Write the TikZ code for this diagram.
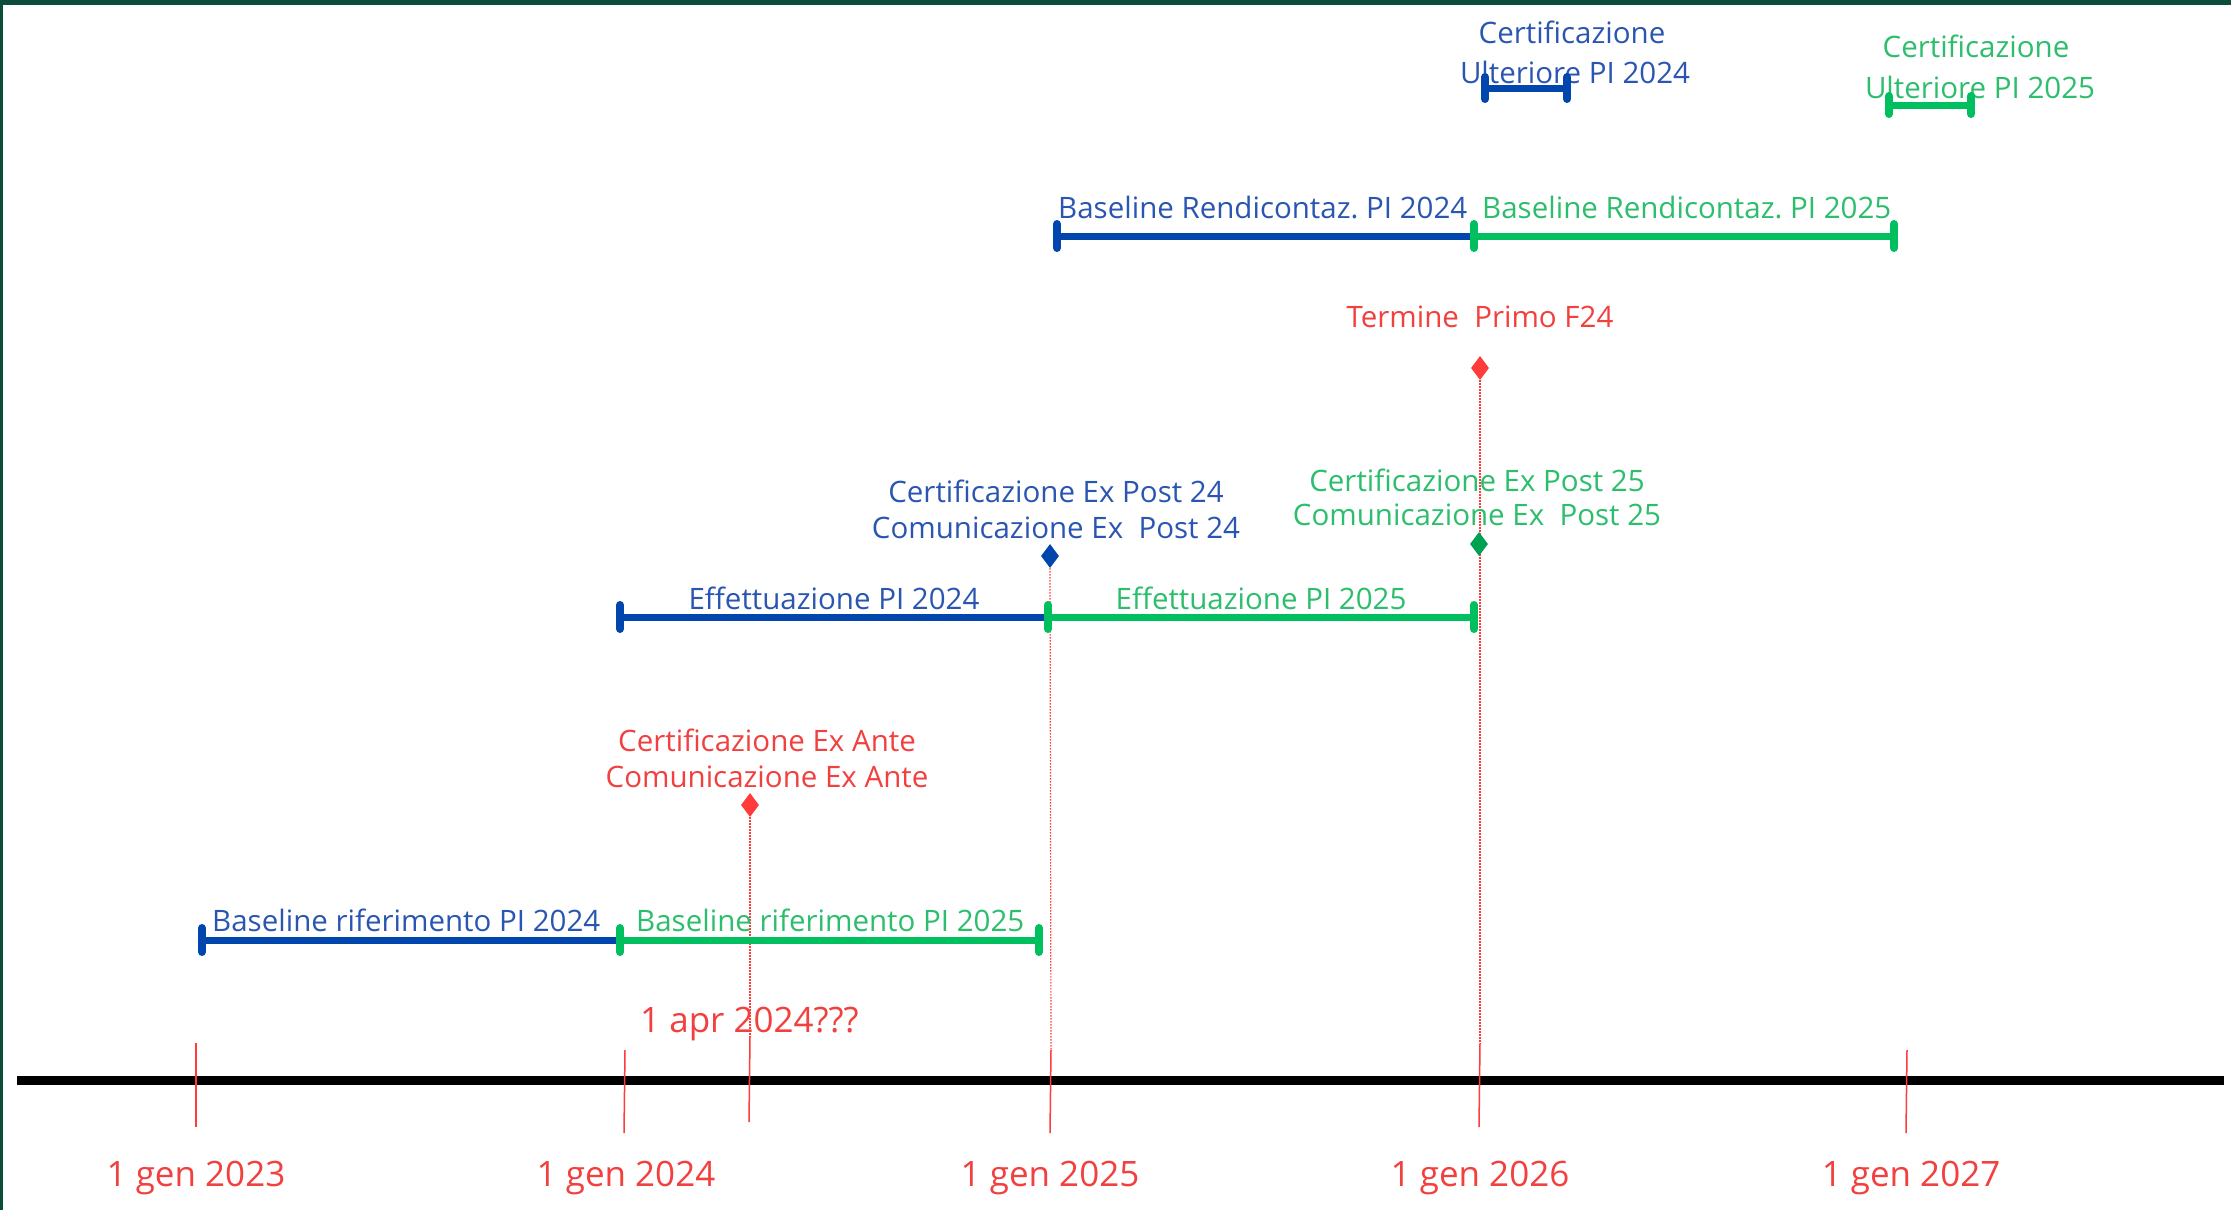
\documentclass[tikz,border=0pt]{standalone}
\usepackage{fontspec}
\setmainfont{Open Sans}
\usetikzlibrary{shapes.geometric}
\definecolor{bbar}{HTML}{0046AD}
\definecolor{btxt}{HTML}{2A56B2}
\definecolor{gbar}{HTML}{00BF5F}
\definecolor{gtxt}{HTML}{2CBE6C}
\definecolor{rline}{HTML}{FF3B3B}
\definecolor{rtxt}{HTML}{F2403F}
\definecolor{framec}{HTML}{0B4D3A}
\frenchspacing
\begin{document}
\begin{tikzpicture}[x=1pt,y=-1pt,
  lbl/.style={font=\fontsize{29.5}{36}\selectfont, inner sep=0pt, anchor=base},
  axlbl/.style={font=\fontsize{35}{42}\selectfont, inner sep=0pt, anchor=base, text=rtxt},
  bluebar/.style={draw=bbar, line width=7pt},
  greenbar/.style={draw=gbar, line width=7pt},
  capb/.style={draw=bbar, line width=8pt, line cap=round},
  capg/.style={draw=gbar, line width=8pt, line cap=round},
  tickline/.style={draw=rline, line width=1.5pt},
  dotline/.style={draw=rline, line width=1.2pt, dash pattern=on 1.5pt off 1.5pt},
  ms/.style={shape=diamond, inner sep=0pt, minimum width=18pt, minimum height=24pt, draw=none}
]
\useasboundingbox (0,0) rectangle (2231,1210);
\fill[white] (0,0) rectangle (2231,1210);
\fill[framec] (0,0) rectangle (2231,5);
\fill[framec] (0,0) rectangle (3,1210);

% coordinates
\coordinate (r1) at (202,940); \coordinate (r2) at (620,940); \coordinate (r3) at (1039,940);
\coordinate (e1) at (620,617); \coordinate (e2) at (1048,617); \coordinate (e3) at (1474,617);
\coordinate (n1) at (1057,236); \coordinate (n2) at (1474,236); \coordinate (n3) at (1894,236);
\coordinate (u1) at (1485,88); \coordinate (u2) at (1567,88);
\coordinate (v1) at (1889,105); \coordinate (v2) at (1971,105);
\coordinate (ax1) at (17,1080); \coordinate (ax2) at (2224,1080);

% axis
\draw[line width=9pt, black] (ax1) -- (ax2);

% ticks
\coordinate (t23a) at (196,1043); \coordinate (t23b) at (196,1127);
\coordinate (t24a) at (625,1050); \coordinate (t24b) at (624,1133);
\coordinate (tapa) at (750,1037); \coordinate (tapb) at (749,1122);
\coordinate (t25a) at (1051,1050); \coordinate (t25b) at (1050,1133);
\coordinate (t26a) at (1480,1043); \coordinate (t26b) at (1479,1127);
\coordinate (t27a) at (1907,1050); \coordinate (t27b) at (1906,1133);
\draw[tickline] (t23a) -- (t23b);
\draw[tickline] (t24a) -- (t24b);
\draw[tickline] (tapa) -- (tapb);
\draw[tickline] (t25a) -- (t25b);
\draw[tickline] (t26a) -- (t26b);
\draw[tickline] (t27a) -- (t27b);

% axis labels
\node[axlbl] (g23) at (196,1186) {1 gen 2023};
\node[axlbl] (g24) at (626,1186) {1 gen 2024};
\node[axlbl] (g25) at (1050,1186) {1 gen 2025};
\node[axlbl] (g26) at (1480,1186) {1 gen 2026};
\node[axlbl] (g27) at (1911,1186) {1 gen 2027};
\node[axlbl, anchor=base west] (apr) at (640,1032) {1 apr 2024???};

% diamonds
\node[ms, fill=rline] (dante) at (750,805) {};
\node[ms, fill=bbar] (dpost24) at (1050,556) {};
\node[ms, fill=rline] (dterm) at (1480,368) {};
\draw[dotline] (dante.south) -- (tapa);
\draw[dotline] (dpost24.south) -- (t25a);
\draw[dotline] (dterm.south) -- (t26a);
\node[ms, fill=gbar!85!black] (dpost25) at (1479,544) {};

% labels
\node[lbl, anchor=base west, text=btxt] (lr24) at (212,931) {Baseline riferimento PI 2024};
\node[lbl, anchor=base west, text=gtxt] (lr25) at (636,931) {Baseline riferimento PI 2025};
\node[lbl, text=rtxt] (la1) at (767,751) {Certificazione Ex Ante};
\node[lbl, text=rtxt] (la2) at (767,787) {Comunicazione Ex Ante};
\node[lbl, text=btxt] (le24) at (834,609) {Effettuazione PI 2024};
\node[lbl, text=gtxt] (le25) at (1261,609) {Effettuazione PI 2025};
\node[lbl, text=btxt] (lp24a) at (1056,502) {Certificazione Ex Post 24};
\node[lbl, text=btxt] (lp24b) at (1056,538) {Comunicazione Ex\ \ Post 24};
\node[lbl, text=gtxt] (lp25a) at (1477,491) {Certificazione Ex Post 25};
\node[lbl, text=gtxt] (lp25b) at (1477,525) {Comunicazione Ex\ \ Post 25};
\node[lbl, text=rtxt] (lterm) at (1480,327) {Termine\ \ Primo F24};
\node[lbl, anchor=base west, text=btxt] (ln24) at (1058,218) {Baseline Rendicontaz. PI 2024};
\node[lbl, anchor=base west, text=gtxt] (ln25) at (1482,218) {Baseline Rendicontaz. PI 2025};
\node[lbl, text=btxt] (lu24a) at (1572,43) {Certificazione};
\node[lbl, text=btxt] (lu24b) at (1575,83) {Ulteriore PI 2024};
\node[lbl, text=gtxt] (lu25a) at (1976,57) {Certificazione};
\node[lbl, text=gtxt] (lu25b) at (1980,98) {Ulteriore PI 2025};

% bars
\draw[bluebar] (r1) -- (r2);
\draw[greenbar] (r2) -- (r3);
\draw[capb] (r1) ++(0,-12) -- ++(0,24);
\draw[capg] (r2) ++(0,-12) -- ++(0,24);
\draw[capg] (r3) ++(0,-12) -- ++(0,24);

\draw[bluebar] (e1) -- (e2);
\draw[greenbar] (e2) -- (e3);
\draw[capb] (e1) ++(0,-12) -- ++(0,24);
\draw[capg] (e2) ++(0,-12) -- ++(0,24);
\draw[capg] (e3) ++(0,-12) -- ++(0,24);

\draw[bluebar] (n1) -- (n2);
\draw[greenbar] (n2) -- (n3);
\draw[capb] (n1) ++(0,-12) -- ++(0,24);
\draw[capg] (n2) ++(0,-12) -- ++(0,24);
\draw[capg] (n3) ++(0,-12) -- ++(0,24);

\draw[bluebar] (u1) -- (u2);
\draw[capb] (u1) ++(0,-11) -- ++(0,22);
\draw[capb] (u2) ++(0,-11) -- ++(0,22);
\draw[greenbar] (v1) -- (v2);
\draw[capg] (v1) ++(0,-9) -- ++(0,18);
\draw[capg] (v2) ++(0,-9) -- ++(0,18);
\end{tikzpicture}
\end{document}
